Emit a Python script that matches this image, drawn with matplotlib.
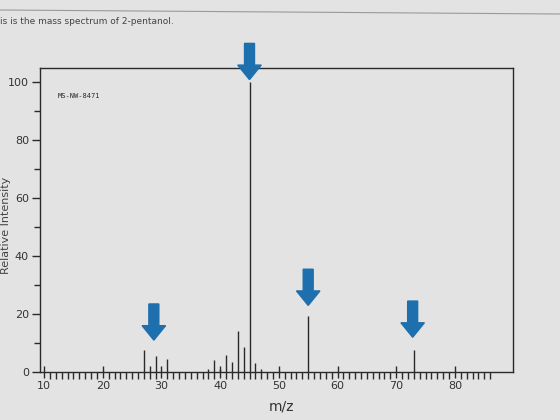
import matplotlib
matplotlib.use("Agg")
import matplotlib.pyplot as plt
from matplotlib.ticker import FixedLocator, MultipleLocator

# mass spectrum of 2-pentanol
mz = [27, 28, 29, 31, 38, 39, 40, 41, 42, 43, 44, 45, 46, 47, 55, 73]
intensity = [7.5, 2, 5.5, 4.5, 1, 4, 1, 6, 3.5, 14, 8.5, 100, 3, 1, 19.5, 7.5]

arrow_mz = [28.7, 45, 55, 72.8]
arrow_tip = [11, 101, 23, 12]

x_ticks = [10, 20, 30, 40, 50, 60, 70, 80]
y_ticks = [0, 20, 40, 60, 80, 100]

bg = "#e3e3e3"
ink = "#2a2a2a"
blue = "#1e6fae"

fig = plt.figure(figsize=(5.6, 4.2), dpi=100, facecolor=bg)
ax = fig.add_axes([40 / 560, 1 - 372 / 420, 473 / 560, 304 / 420], facecolor=bg)

ax.vlines(mz, 0, intensity, color=ink, lw=1.0)
ax.set_xlim(9.3, 89.9)
ax.set_ylim(0, 105)

for s in ax.spines.values():
    s.set_color(ink)
    s.set_linewidth(1.0)

ax.set_xticks(x_ticks)
ax.set_yticks(y_ticks)
ax.xaxis.set_minor_locator(FixedLocator(list(range(10, 87))))
ax.yaxis.set_minor_locator(MultipleLocator(10))
ax.tick_params(axis="x", which="major", direction="inout", length=9, width=1,
               color=ink, labelsize=8, labelcolor="#333", pad=2)
ax.tick_params(axis="x", which="minor", direction="out", length=3, width=1, color=ink)
ax.tick_params(axis="y", which="major", direction="out", length=6, width=1,
               color=ink, labelsize=8, labelcolor="#333", pad=2)
ax.tick_params(axis="y", which="minor", direction="out", length=4, width=1, color=ink)
for t in ax.xaxis.get_minor_ticks():
    if round(t.get_loc()) % 5 == 0:
        t.tick1line.set_markersize(5)

ax.text(12.3, 95.5, "MS-NW-8471", fontsize=5, family="DejaVu Sans Mono", color=ink,
        va="center")

for x, tip in zip(arrow_mz, arrow_tip):
    ax.arrow(x, tip + 12.5, 0, -12.5, width=1.7, head_width=4.0, head_length=5,
             length_includes_head=True, color=blue, clip_on=False, zorder=5)

fig.text(282 / 560, 1 - 406 / 420, "m/z", fontsize=10, color="#333", ha="center", va="center")
fig.text(0.001, 1 - 225 / 420, "Relative Intensity", rotation=90, fontsize=8,
         color="#444", ha="left", va="center")
fig.text(0.0, 1 - 21 / 420, "is is the mass spectrum of 2-pentanol.", fontsize=6.5,
         color="#444", ha="left", va="center")
fig.add_artist(plt.Line2D([0, 1], [1 - 10 / 420, 1 - 14 / 420], color="#9a9a9a", lw=0.8))

fig.savefig("out.png", dpi=100, facecolor=bg)
